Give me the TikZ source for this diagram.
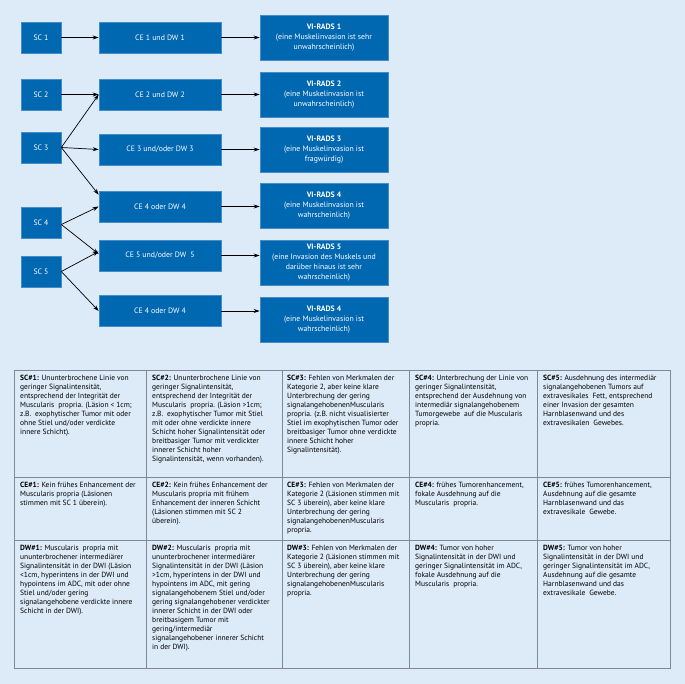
\documentclass[tikz,border=0pt]{standalone}
\usepackage{fontspec}
\setmainfont{PT Sans}
\usetikzlibrary{arrows.meta}
\definecolor{bg}{RGB}{221,234,247}
\definecolor{boxblue}{RGB}{0,103,177}
\definecolor{boxedge}{RGB}{70,140,200}
\definecolor{grid}{RGB}{130,136,146}
\begin{document}
\begin{tikzpicture}[x=1pt,y=-1pt,
  fbox/.style={fill=boxblue, draw=boxedge, line width=0.6pt, inner sep=0pt, text=white, align=center,
    font=\fontsize{7.8}{10}\selectfont, minimum height=31pt},
  scbox/.style={fbox, minimum width=40pt},
  cebox/.style={fbox, minimum width=122pt},
  vrbox/.style={fbox, minimum width=128pt, minimum height=45pt},
  arr/.style={draw=black, line width=0.7pt, -{Stealth[length=6pt,width=4pt]}},
  cell/.style={anchor=north west, inner sep=0pt, align=left, text=black,
    font=\fontsize{7.5}{9}\selectfont},
  gridline/.style={draw=grid, line width=0.8pt}]
\fill[bg] (0,0) rectangle (685,684);
\useasboundingbox (0,0) rectangle (685,684);

% SC boxes
\node[scbox] (sc1) at (41,37.5) {SC 1};
\node[scbox] (sc2) at (41,94.5) {SC 2};
\node[scbox] (sc3) at (41,147.5) {SC 3};
\node[scbox] (sc4) at (41,222.5) {SC 4};
\node[scbox] (sc5) at (41,271.5) {SC 5};
% CE boxes
\node[cebox] (ce1) at (160,37.5) {CE 1 und DW 1};
\node[cebox] (ce2) at (160,94.5) {CE 2 und DW 2};
\node[cebox] (ce3) at (160,149.5) {CE 3 und/oder DW 3};
\node[cebox] (ce4) at (160,206.5) {CE 4 oder DW 4};
\node[cebox] (ce5) at (160,255.5) {CE 5 und/oder DW\ \ 5};
\node[cebox] (ce6) at (160,311) {CE 4 oder DW 4};
% VI-RADS boxes
\node[vrbox] (vr1) at (324,37.5) {\textbf{VI-RADS 1}\\(eine Muskelinvasion ist sehr\\unwahrscheinlich)};
\node[vrbox] (vr2) at (324,94.5) {\textbf{VI-RADS 2}\\(eine Muskelinvasion ist\\unwahrscheinlich)};
\node[vrbox] (vr3) at (324,149.5) {\textbf{VI-RADS 3}\\(eine Muskelinvasion ist\\fragwürdig)};
\node[vrbox] (vr4) at (324,206) {\textbf{VI-RADS 4}\\(eine Muskelinvasion ist\\wahrscheinlich)};
\node[vrbox] (vr5) at (324,262.5) {\textbf{VI-RADS 5}\\(eine Invasion des Muskels und\\darüber hinaus ist sehr\\wahrscheinlich)};
\node[vrbox] (vr6) at (324,319.5) {\textbf{VI-RADS 4}\\(eine Muskelinvasion ist\\wahrscheinlich)};

% arrows SC -> CE
\draw[arr] (sc1.east) -- (ce1.west);
\draw[arr] (sc2.east) -- (ce2.west);
\draw[arr] (sc3.east) -- (ce2.west);
\draw[arr] (sc3.east) -- (ce3.west);
\draw[arr] (sc3.east) -- ([yshift=-4pt]ce4.north west);
\draw[arr] ([yshift=-2pt]sc4.east) -- (ce4.west);
\draw[arr] ([yshift=-2pt]sc4.east) -- ([yshift=1.5pt]ce5.west);
\draw[arr] (sc5.east) -- ([yshift=4pt]ce5.west);
\draw[arr] (sc5.east) -- (ce6.west);
% arrows CE -> VI-RADS
\foreach \i in {1,...,6}{
  \draw[arr] (ce\i.east) -- (ce\i.east -| vr\i.west);
}

% table grid
\draw[gridline] (14,370) rectangle (670,668);
\draw[gridline] (14,477) -- (670,477);
\draw[gridline] (14,540) -- (670,540);
\foreach \xx in {146,282,409,537}{
  \draw[gridline] (\xx,370) -- (\xx,668);
}

% row 1
\node[cell] (sc1t) at (20,375) {\textbf{SC\#1:} Ununterbrochene Linie von\\geringer Signalintensität,\\entsprechend der Integrität der\\Muscularis\ \ propria. (Läsion < 1cm;\\z.B.\ \ exophytischer Tumor mit oder\\ohne Stiel und/oder verdickte\\innere Schicht).};
\node[cell] (sc2t) at (152,375) {\textbf{SC\#2:} Ununterbrochene Linie von\\geringer Signalintensität,\\entsprechend der Integrität der\\Muscularis\ \ propria. (Läsion >1cm;\\z.B.\ \ exophytischer Tumor mit Stiel\\mit oder ohne verdickte innere\\Schicht hoher Signalintensität oder\\breitbasiger Tumor mit verdickter\\innerer Schicht hoher\\Signalintensität, wenn vorhanden).};
\node[cell] (sc3t) at (287,375) {\textbf{SC\#3:} Fehlen von Merkmalen der\\Kategorie 2, aber keine klare\\Unterbrechung der gering\\signalangehobenenMuscularis\\propria. (z.B. nicht visualisierter\\Stiel im exophytischen Tumor oder\\breitbasiger Tumor ohne verdickte\\innere Schicht hoher\\Signalintensität).};
\node[cell] (sc4t) at (415,375) {\textbf{SC\#4:} Unterbrechung der Linie von\\geringer Signalintensität,\\entsprechend der Ausdehnung von\\intermediär signalangehobenem\\Tumorgewebe\ \ auf die Muscularis\\propria.};
\node[cell] (sc5t) at (543,375) {\textbf{SC\#5:} Ausdehnung des intermediär\\signalangehobenen Tumors auf\\extravesikales\ \ Fett, entsprechend\\einer Invasion der gesamten\\Harnblasenwand und des\\extravesikalen\ \ Gewebes.};

% row 2
\node[cell] (ce1t) at (20,482) {\textbf{CE\#1:} Kein frühes Enhancement der\\Muscularis propria (Läsionen\\stimmen mit SC 1 überein).};
\node[cell] (ce2t) at (152,482) {\textbf{CE\#2:} Kein frühes Enhancement der\\Muscularis propria mit frühem\\Enhancement der inneren Schicht\\(Läsionen stimmen mit SC 2\\überein).};
\node[cell] (ce3t) at (287,482) {\textbf{CE\#3:} Fehlen von Merkmalen der\\Kategorie 2 (Läsionen stimmen mit\\SC 3 überein), aber keine klare\\Unterbrechung der gering\\signalangehobenenMuscularis\\propria.};
\node[cell] (ce4t) at (415,482) {\textbf{CE\#4:} frühes Tumorenhancement,\\fokale Ausdehnung auf die\\Muscularis\ \ propria.};
\node[cell] (ce5t) at (543,482) {\textbf{CE\#5:} frühes Tumorenhancement,\\Ausdehnung auf die gesamte\\Harnblasenwand und das\\extravesikale\ \ Gewebe.};

% row 3
\node[cell] (dw1t) at (20,545) {\textbf{DW\#1:} Muscularis\ \ propria mit\\ununterbrochener intermediärer\\Signalintensität in der DWI (Läsion\\<1cm, hyperintens in der DWI und\\hypointens im ADC, mit oder ohne\\Stiel und/oder gering\\signalangehobene verdickte innere\\Schicht in der DWI).};
\node[cell] (dw2t) at (152,545) {\textbf{DW\#2:} Muscularis\ \ propria mit\\ununterbrochener intermediärer\\Signalintensität in der DWI (Läsion\\>1cm, hyperintens in der DWI und\\hypointens im ADC, mit gering\\signalangehobenem Stiel und/oder\\gering signalangehobener verdickter\\innerer Schicht in der DWI oder\\breitbasigem Tumor mit\\gering/intermediär\\signalangehobener innerer Schicht\\in der DWI).};
\node[cell] (dw3t) at (287,545) {\textbf{DW\#3:} Fehlen von Merkmalen der\\Kategorie 2 (Läsionen stimmen mit\\SC 3 überein), aber keine klare\\Unterbrechung der gering\\signalangehobenenMuscularis\\propria.};
\node[cell] (dw4t) at (415,545) {\textbf{DW\#4:} Tumor von hoher\\Signalintensität in der DWI und\\geringer Signalintensität im ADC,\\fokale Ausdehnung auf die\\Muscularis\ \ propria.};
\node[cell] (dw5t) at (543,545) {\textbf{DW\#5:} Tumor von hoher\\Signalintensität in der DWI und\\geringer Signalintensität im ADC,\\Ausdehnung auf die gesamte\\Harnblasenwand und das\\extravesikale\ \ Gewebe.};
\end{tikzpicture}
\end{document}
